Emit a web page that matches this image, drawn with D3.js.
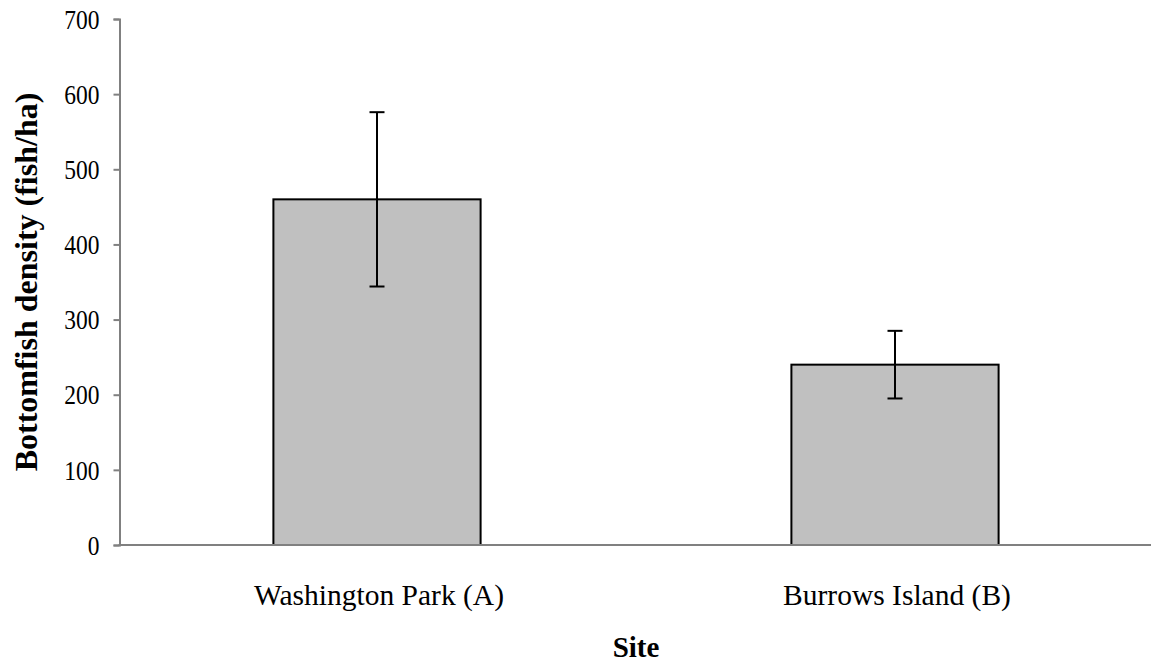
<!DOCTYPE html>
<html>
<head>
<meta charset="utf-8">
<script src="https://cdn.jsdelivr.net/npm/d3@7"></script>
<style>
  html, body { margin: 0; padding: 0; background: #fff; }
  svg { display: block; }
  text { font-family: "Liberation Serif", "Times New Roman", serif; fill: #000; }
</style>
</head>
<body>
<svg id="chart" width="1151" height="664"></svg>
<script>
// Mean bottomfish density per site, with error bar half-widths
const sites = ["Washington Park (A)", "Burrows Island (B)"];
const density = [460, 240];
const errorHalf = [116, 45];
const yTicks = [0, 100, 200, 300, 400, 500, 600, 700];

const W = 1151, H = 664;
const svg = d3.select("#chart");

const y = d3.scaleLinear().domain([0, 700]).range([545, 19]);
const x = d3.scaleBand().domain(sites).range([118, 1154]).padding(0);
const barW = x.bandwidth() * 0.4;
const axisX = 119.5;

// Bars
svg.append("g").selectAll("rect")
  .data(sites)
  .join("rect")
  .attr("x", (d) => x(d) + (x.bandwidth() - barW) / 2)
  .attr("y", (d, i) => y(density[i]))
  .attr("width", barW)
  .attr("height", (d, i) => y(0) - y(density[i]))
  .attr("fill", "#c0c0c0")
  .attr("stroke", "#000")
  .attr("stroke-width", 2);

// Error bars
const eb = svg.append("g").attr("stroke", "#000").attr("stroke-width", 2);
sites.forEach((s, i) => {
  const cx = x(s) + x.bandwidth() / 2;
  const lo = y(density[i] - errorHalf[i]);
  const hi = y(density[i] + errorHalf[i]);
  eb.append("line").attr("x1", cx).attr("x2", cx).attr("y1", lo).attr("y2", hi);
  eb.append("line").attr("x1", cx - 7.5).attr("x2", cx + 7.5).attr("y1", lo).attr("y2", lo);
  eb.append("line").attr("x1", cx - 7.5).attr("x2", cx + 7.5).attr("y1", hi).attr("y2", hi);
});

// Y axis
const yAxis = svg.append("g")
  .attr("transform", `translate(${axisX},0)`)
  .call(d3.axisLeft(y).tickValues(yTicks).tickSizeOuter(0).tickSize(6).tickPadding(14).tickFormat(d3.format("d")));
yAxis.select(".domain").attr("stroke", "#808080").attr("stroke-width", 2);
yAxis.selectAll(".tick line").attr("stroke", "#808080").attr("stroke-width", 2);
yAxis.selectAll(".tick text")
  .attr("font-family", "Liberation Serif, serif")
  .attr("font-size", 27)
  .attr("fill", "#000")
  .attr("dy", "0.34em")
  .attr("transform", function () {
    const xx = +d3.select(this).attr("x");
    return `translate(${xx},0) scale(0.87,1) translate(${-xx},0)`;
  });

// X axis baseline (category labels drawn from the band scale)
svg.append("line")
  .attr("x1", axisX - 1).attr("x2", W)
  .attr("y1", y(0)).attr("y2", y(0))
  .attr("stroke", "#808080").attr("stroke-width", 2);

svg.append("g").selectAll("text")
  .data(sites)
  .join("text")
  .attr("x", (d) => x(d) + x.bandwidth() / 2 + 2)
  .attr("y", 605)
  .attr("text-anchor", "middle")
  .attr("font-size", 29.5)
  .text((d) => d);

// Axis titles
svg.append("text")
  .attr("x", 636)
  .attr("y", 657)
  .attr("text-anchor", "middle")
  .attr("font-size", 29)
  .attr("font-weight", "bold")
  .text("Site");

svg.append("text")
  .attr("transform", `translate(37,${(y(0) + y(700)) / 2}) rotate(-90)`)
  .attr("text-anchor", "middle")
  .attr("font-size", 32)
  .attr("font-weight", "bold")
  .text("Bottomfish density (fish/ha)");
</script>
</body>
</html>
